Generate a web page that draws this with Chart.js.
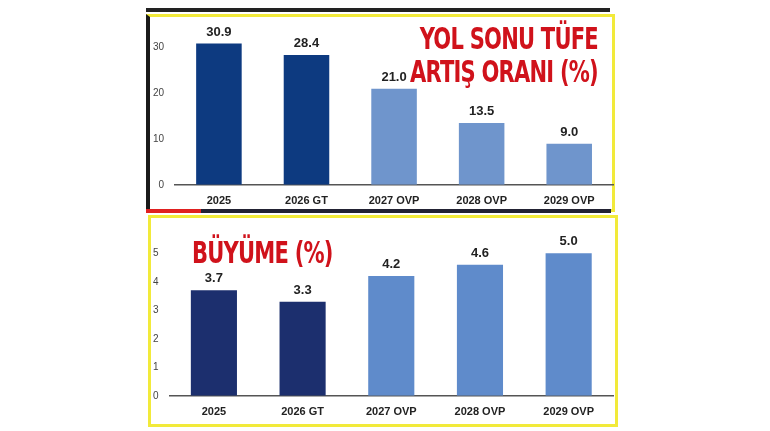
<!DOCTYPE html>
<html>
<head>
<meta charset="utf-8">
<script src="https://cdn.jsdelivr.net/npm/chart.js@4"></script>
<style>
  body { margin: 0; background: #fff; width: 770px; height: 431px; position: relative; overflow: hidden; font-family: "Liberation Sans", Arial, sans-serif; }
  .panel { position: absolute; border: 3px solid #f2ea3a; background: #fff; }
  #p1 { left: 146px; top: 14px; width: 462px; height: 192px; border-left: 4px solid #1a1a1a; }
  #p2 { left: 148px; top: 215px; width: 464px; height: 206px; }
  .topbar { position: absolute; left: 146px; top: 8px; width: 464px; height: 4px; background: #222; }
  .red { position: absolute; left: 146px; top: 209px; width: 55px; height: 4px; background: #e02020; }
  .dark { position: absolute; left: 201px; top: 209px; width: 410px; height: 4px; background: #223; }
  .wrap { position: absolute; }
  .title { position: absolute; color: #d0121b; font-family: "DejaVu Sans Condensed", "Liberation Sans Narrow", sans-serif; font-weight: bold; font-size: 30px; line-height: 33px; letter-spacing: -1px; transform: scaleX(0.78); }
</style>
</head>
<body>
<div class="topbar"></div>
<div class="panel" id="p1"></div>
<div class="red"></div><div class="dark"></div>
<div class="panel" id="p2"></div>
<div class="wrap" style="left:150px;top:22px;width:475px;height:188px"><canvas id="tufeChart"></canvas></div>
<div class="wrap" style="left:150px;top:225px;width:475px;height:196px"><canvas id="growthChart"></canvas></div>
<div class="title" style="right:172px;top:22px;text-align:right;transform-origin:right top">YOL SONU TÜFE<br>ARTIŞ ORANI (%)</div>
<div class="title" style="left:192px;top:236px;transform-origin:left top">BÜYÜME (%)</div>
<script>
const categories = ["2025", "2026 GT", "2027 OVP", "2028 OVP", "2029 OVP"];
const tufeValues = [30.9, 28.4, 21.0, 13.5, 9.0];
const growthValues = [3.7, 3.3, 4.2, 4.6, 5.0];
const tufeColors = ["#0d3a80", "#0d3a80", "#6f95cc", "#6f95cc", "#6f95cc"];
const growthColors = ["#1c2f6e", "#1c2f6e", "#5f8bcb", "#5f8bcb", "#5f8bcb"];

const valueLabels = {
    id: "valueLabels",
    afterDatasetsDraw(chart) {
        const ctx = chart.ctx;
        const meta = chart.getDatasetMeta(0);
        ctx.save();
        ctx.font = "bold 13px 'Liberation Sans', Arial";
        ctx.fillStyle = "#222";
        ctx.textAlign = "center";
        ctx.textBaseline = "bottom";
        meta.data.forEach((bar, i) => {
            ctx.fillText(chart.data.datasets[0].data[i].toFixed(1), bar.x, bar.y - 5);
        });
        ctx.restore();
    }
};

function createBarChart(ctx, values, colors, max, step, topPad) {
    return new Chart(ctx, {
        type: "bar",
        data: {
            labels: categories,
            datasets: [{ data: values, backgroundColor: colors, barPercentage: 0.52, categoryPercentage: 1 }],
        },
        options: {
            responsive: true,
            maintainAspectRatio: false,
            animation: false,
            layout: { padding: { top: topPad, right: 12 } },
            plugins: { legend: { display: false }, tooltip: { enabled: false } },
            scales: {
                x: {
                    grid: { display: false },
                    border: { color: "#555", width: 1.5 },
                    ticks: { color: "#222", font: { size: 11, weight: "bold" }, padding: 2 },
                },
                y: {
                    min: 0, max: max,
                    grid: { display: false },
                    border: { display: false },
                    afterBuildTicks: (axis) => { axis.ticks = axis.ticks.filter(t => t.value % step === 0); },
                    ticks: { stepSize: step, color: "#444", font: { size: 10 } },
                },
            },
        },
        plugins: [valueLabels],
    });
}

createBarChart(document.getElementById("tufeChart"), tufeValues, tufeColors, 33, 10, 12);
createBarChart(document.getElementById("growthChart"), growthValues, growthColors, 5.5, 1, 14);
</script>
</body>
</html>
